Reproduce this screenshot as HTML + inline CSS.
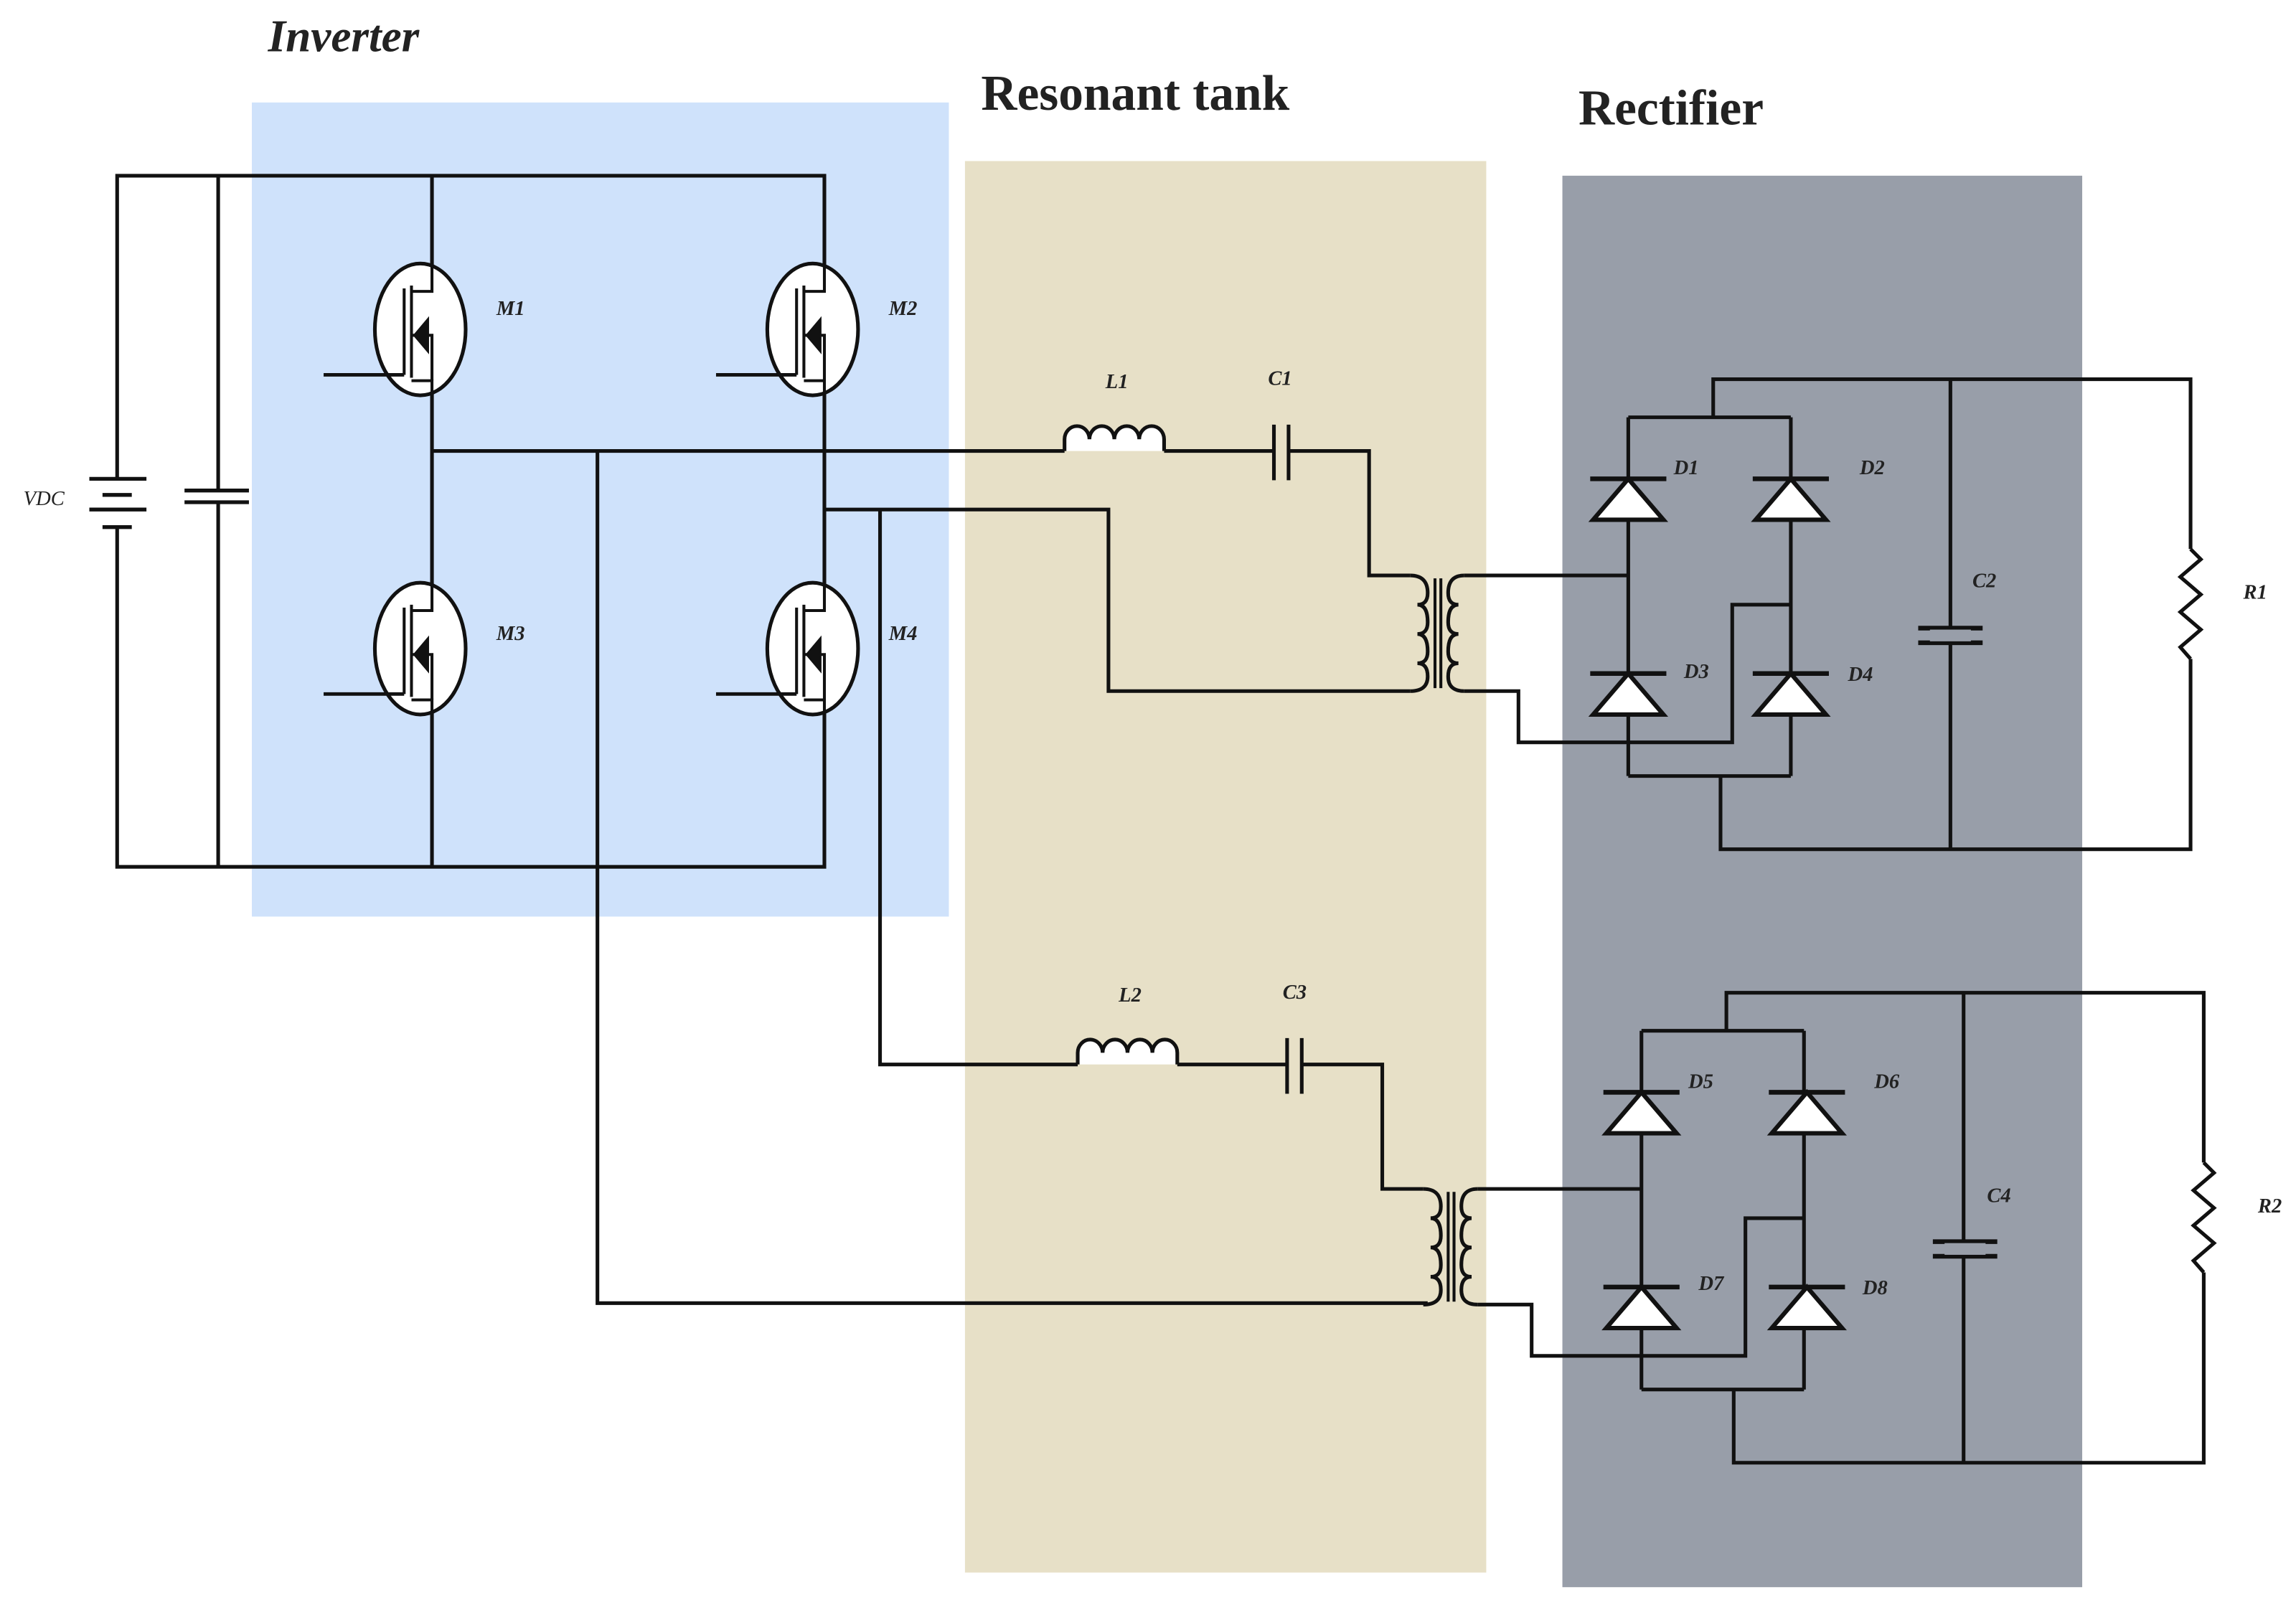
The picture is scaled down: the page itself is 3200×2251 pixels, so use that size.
<!DOCTYPE html>
<html><head><meta charset="utf-8"><style>
html,body{margin:0;padding:0;background:#fff;}
svg{display:block;}
text{font-family:"Liberation Serif",serif;font-style:italic;font-weight:bold;fill:#222;}
</style></head><body>
<svg width="3200" height="2251" viewBox="0 0 1568 1103" xmlns="http://www.w3.org/2000/svg">
<defs>
<g id="mos">
  <ellipse cx="0" cy="0" rx="31" ry="45" fill="#fff" stroke="#111" stroke-width="2.5"/>
  <line x1="-66" y1="31" x2="-11" y2="31" stroke="#111" stroke-width="2.4"/>
  <line x1="-11" y1="-28" x2="-11" y2="31" stroke="#111" stroke-width="2"/>
  <line x1="-6" y1="-30" x2="-6" y2="33" stroke="#111" stroke-width="2"/>
  <polyline points="8,-45 8,-26 -6,-26" fill="none" stroke="#111" stroke-width="2"/>
  <polyline points="8,45 8,35 -6,35" fill="none" stroke="#111" stroke-width="2"/>
  <polyline points="-6,4 8,4 8,35" fill="none" stroke="#111" stroke-width="2"/>
  <polygon points="-5,4 6,-9 6,17" fill="#111"/>
</g>
<g id="diode">
  <polygon points="0,0 -24,28 24,28" fill="#fff" stroke="#111" stroke-width="3"/>
  <line x1="-26" y1="0" x2="26" y2="0" stroke="#111" stroke-width="3.2"/>
</g>
<g id="stage" fill="none" stroke="#111" stroke-width="2.5">
  <path d="M727,308 L727,300 A8.5,9 0 0 1 744,300 A8.5,9 0 0 1 761,300 A8.5,9 0 0 1 778,300 A8.5,9 0 0 1 795,300 L795,308" fill="#fff"/>
  <line x1="795" y1="308" x2="870" y2="308"/>
  <line x1="870" y1="290" x2="870" y2="328"/>
  <line x1="880" y1="290" x2="880" y2="328"/>
  <polyline points="880,308 935,308 935,393 963,393"/>
  <path d="M963,393 Q975,393 975,405 Q975,413 968,413 Q975,413 975,425 Q975,433 968,433 Q975,433 975,445 Q975,453 968,453 Q975,453 975,462 Q975,472 963,472"/>
  <line x1="980" y1="395" x2="980" y2="470" stroke-width="2"/>
  <line x1="984" y1="395" x2="984" y2="470" stroke-width="2"/>
  <path d="M1000,393 Q989,393 989,405 Q989,413 996,413 Q989,413 989,425 Q989,433 996,433 Q989,433 989,445 Q989,453 996,453 Q989,453 989,462 Q989,472 1000,472"/>
  <polyline points="1000,393 1112,393"/>
  <polyline points="1000,472 1037,472 1037,507 1183,507 1183,413 1223,413"/>
  <polyline points="1112,285 1223,285"/>
  <polyline points="1170,285 1170,259 1496,259 1496,375"/>
  <line x1="1112" y1="285" x2="1112" y2="530"/>
  <line x1="1223" y1="285" x2="1223" y2="530"/>
  <polyline points="1112,530 1223,530"/>
  <polyline points="1175,530 1175,580 1496,580 1496,450"/>
  <line x1="1332" y1="259" x2="1332" y2="580"/>
  <path d="M1496,375 L1503,382 L1489,394 L1503,406 L1489,418 L1503,430 L1489,442 L1496,450"/>
</g>
</defs>

<rect x="172" y="70" width="476" height="556" fill="#cfe2fb"/>
<rect x="659" y="110" width="356" height="964" fill="#e7e0c7"/>
<rect x="1067" y="120" width="355" height="964" fill="#989ea9"/>

<text x="183" y="35" font-size="31">Inverter</text>
<text x="670" y="75" font-size="34" style="font-style:normal">Resonant tank</text>
<text x="1078" y="85" font-size="34" style="font-style:normal">Rectifier</text>

<g fill="none" stroke="#111" stroke-width="2.5">
  <polyline points="80,327 80,120 563,120 563,592 80,592 80,360"/>
  <line x1="149" y1="120" x2="149" y2="335"/>
  <line x1="149" y1="343" x2="149" y2="592"/>
  <line x1="126" y1="335" x2="170" y2="335" stroke-width="2.6"/>
  <line x1="126" y1="343" x2="170" y2="343" stroke-width="2.6"/>
  <line x1="61" y1="327" x2="100" y2="327" stroke-width="2.6"/>
  <line x1="70" y1="338" x2="90" y2="338" stroke-width="2.6"/>
  <line x1="61" y1="348" x2="100" y2="348" stroke-width="2.6"/>
  <line x1="70" y1="360" x2="90" y2="360" stroke-width="2.6"/>
  <line x1="295" y1="120" x2="295" y2="592"/>
  <polyline points="295,308 727,308"/>
  <polyline points="408,308 408,890 975,890"/>
  <polyline points="563,348 757,348 757,472 963,472"/>
  <polyline points="601,348 601,727 736,727"/>
</g>
<use href="#mos" x="287" y="225"/>
<use href="#mos" x="287" y="443"/>
<use href="#mos" x="555" y="225"/>
<use href="#mos" x="555" y="443"/>

<use href="#stage"/>
<use href="#stage" transform="translate(9,419)"/>
<g stroke="#111" stroke-width="3.2">
  <line x1="1310" y1="429" x2="1354" y2="429"/><line x1="1310" y1="439" x2="1354" y2="439"/>
  <line x1="1320" y1="848" x2="1364" y2="848"/><line x1="1320" y1="858" x2="1364" y2="858"/>
</g>
<rect x="1318" y="430" width="28" height="8" fill="#989ea9"/>
<rect x="1328" y="849" width="28" height="8" fill="#989ea9"/>
<use href="#diode" x="1112" y="327"/><use href="#diode" x="1223" y="327"/>
<use href="#diode" x="1112" y="460"/><use href="#diode" x="1223" y="460"/>
<use href="#diode" x="1121" y="746"/><use href="#diode" x="1234" y="746"/>
<use href="#diode" x="1121" y="879"/><use href="#diode" x="1234" y="879"/>

<g font-size="14">
<text x="16" y="345" style="font-weight:normal">VDC</text>
<text x="339" y="215">M1</text><text x="607" y="215">M2</text>
<text x="339" y="437">M3</text><text x="607" y="437">M4</text>
<text x="755" y="265">L1</text><text x="866" y="263">C1</text>
<text x="764" y="684">L2</text><text x="876" y="682">C3</text>
<text x="1143" y="324">D1</text><text x="1270" y="324">D2</text>
<text x="1150" y="463">D3</text><text x="1262" y="465">D4</text>
<text x="1347" y="401">C2</text><text x="1532" y="409">R1</text>
<text x="1153" y="743">D5</text><text x="1280" y="743">D6</text>
<text x="1160" y="881">D7</text><text x="1272" y="884">D8</text>
<text x="1357" y="821">C4</text><text x="1542" y="828">R2</text>
</g>
</svg>
</body></html>
